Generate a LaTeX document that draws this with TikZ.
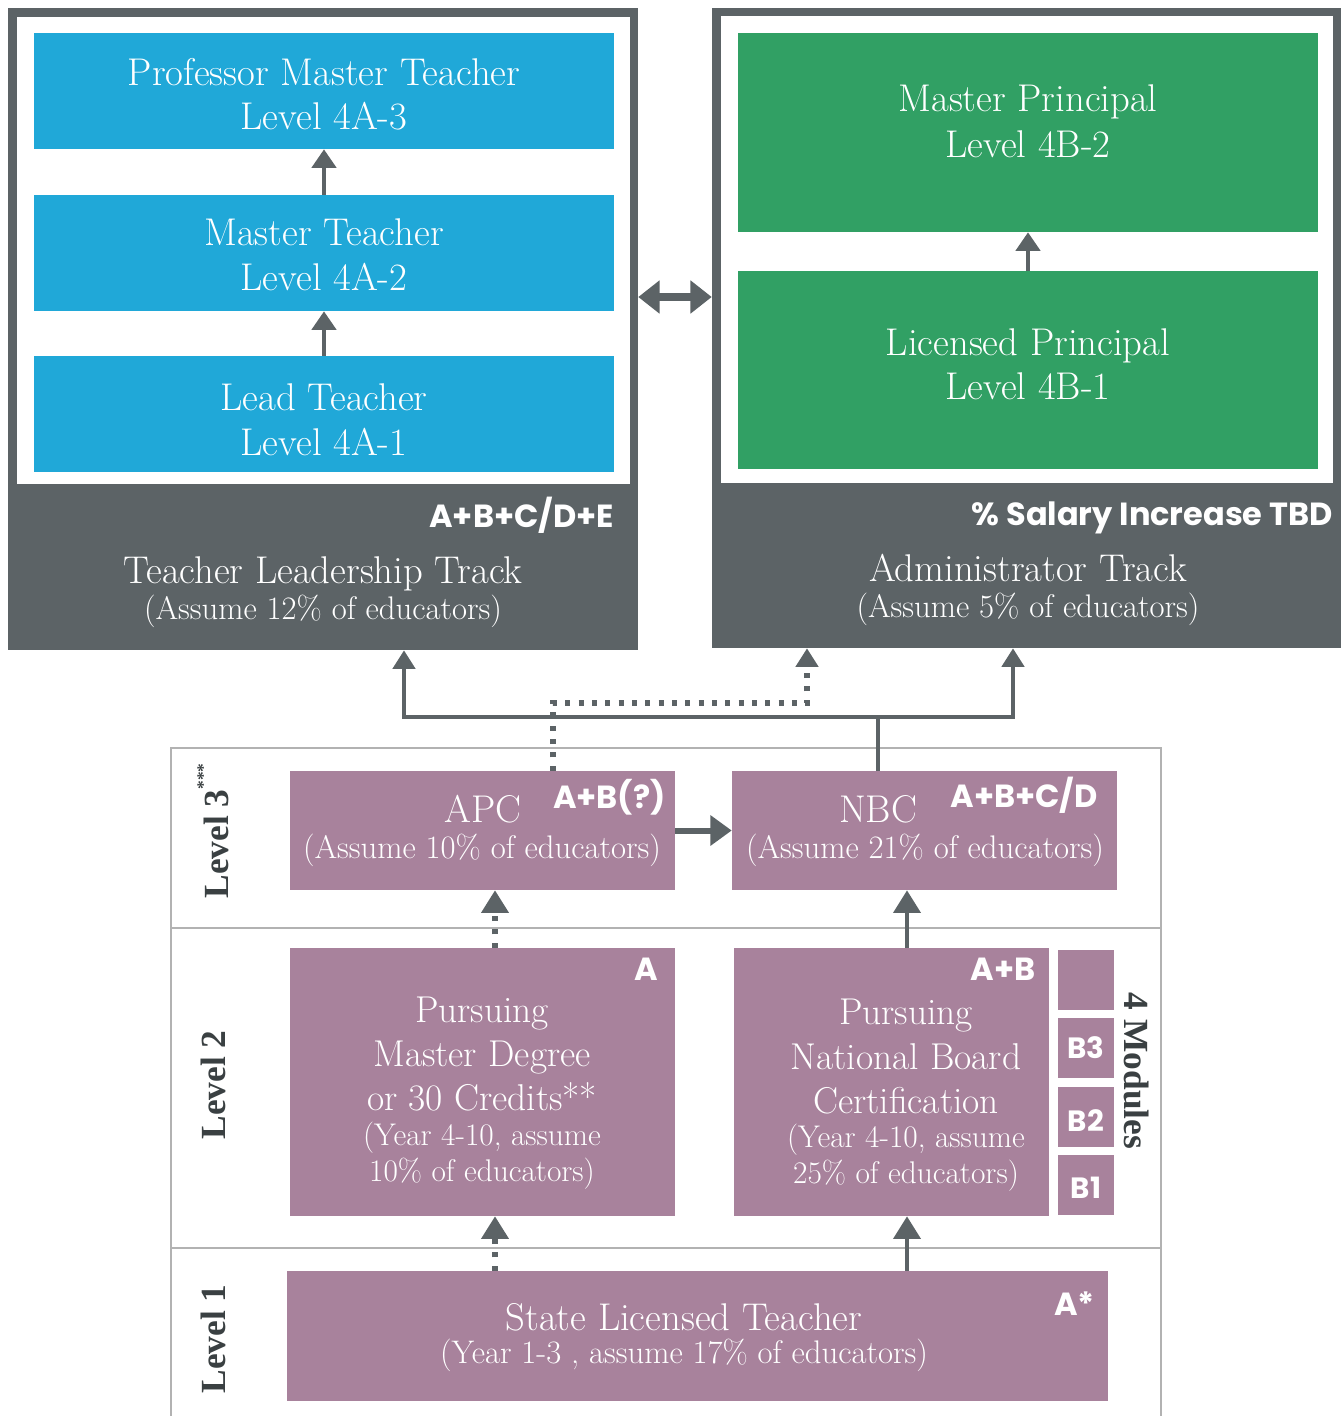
\documentclass[tikz,border=0pt]{standalone}
\usepackage{fontspec}
\newfontfamily\labfont{Poppins}
\newfontfamily\lvlfont{Liberation Serif}
\usetikzlibrary{fit,arrows.meta}
\definecolor{dk}{RGB}{92,99,102}
\definecolor{dkt}{RGB}{58,64,66}
\definecolor{bl}{RGB}{32,168,216}
\definecolor{gr}{RGB}{49,160,100}
\definecolor{mv}{RGB}{168,130,156}
\definecolor{gl}{RGB}{178,178,178}
\tikzset{
  area/.style={inner sep=0pt, draw=none},
  big/.style={font=\fontsize{29}{33}\selectfont, text=white, inner sep=0pt, anchor=base},
  mid/.style={font=\fontsize{28}{32}\selectfont, text=white, inner sep=0pt, anchor=base},
  sub/.style={font=\fontsize{24.5}{28}\selectfont, text=white, inner sep=0pt, anchor=base},
  small/.style={font=\fontsize{23.5}{27}\selectfont, text=white, inner sep=0pt, anchor=base},
  lab/.style={font=\labfont\bfseries\fontsize{24}{27}\selectfont, text=white, inner sep=0pt, anchor=base east},
  modlab/.style={font=\labfont\bfseries\fontsize{22}{25}\selectfont, text=white, inner sep=0pt, anchor=base},
  lvl/.style={font=\lvlfont\bfseries\fontsize{26.5}{30}\selectfont, text=dkt, inner sep=0pt},
  conn/.style={draw=dk, line width=3.6pt},
  arr/.style={conn, -{Triangle[width=20pt,length=17pt]}},
  arrtop/.style={conn, line join=miter, {Triangle[width=16.5pt,length=14pt]}-{Triangle[width=16.5pt,length=14pt]}},
  arrsm/.style={conn, -{Triangle[width=18pt,length=14pt]}},
  arrthick/.style={draw=dk, line width=4.5pt, -{Triangle[width=22pt,length=16pt]}},
  arrdbl/.style={draw=dk, line width=6pt, {Triangle[width=24pt,length=16pt]}-{Triangle[width=24pt,length=16pt]}},
  dotted line/.style={conn, line width=3.8pt, dash pattern=on 3.8pt off 6.2pt},
  dotarr/.style={dotted line, -{Triangle[width=20pt,length=17pt]}},
  dotarrtop/.style={dotted line, -{Triangle[width=16.5pt,length=14pt]}},
  grid/.style={draw=gl, line width=1.5pt},
}
\begin{document}
\begin{tikzpicture}[x=0.75pt,y=-0.75pt]
\useasboundingbox (0,0) rectangle (1341,1416);

% ---------- level grid ----------
\draw[grid] (171,1416) -- (171,748) -- (1161,748) -- (1161,1416);
\draw[grid] (171,928) -- (1161,928);
\draw[grid] (171,1248) -- (1161,1248);

% ---------- teacher leadership track ----------
\node[area, fill=dk, fit={(8,8) (638,650)}] (ltrack) {};
\node[area, fill=white, fit={(17,17) (630,484)}] (lpanel) {};
\node[area, fill=bl, fit={(34,33) (614,149)}] (pmt) {};
\node[area, fill=bl, fit={(34,195) (614,311)}] (mt) {};
\node[area, fill=bl, fit={(34,356) (614,472)}] (lt) {};
\node[big] (pmt1) at (324,86) {Professor Master Teacher};
\node[big] (pmt2) at (324,130) {Level 4A-3};
\node[big] (mt1) at (324,245) {Master Teacher};
\node[big] (mt2) at (324,290) {Level 4A-2};
\node[big] (lt1) at (324,410) {Lead Teacher};
\node[big] (lt2) at (324,455) {Level 4A-1};
\node[lab] (lcode) at (614,527) {A+B+C/D+E};
\node[big] (ltitle) at (323,583) {Teacher Leadership Track};
\node[sub] (lsub) at (323,619) {(Assume 12\% of educators)};

% ---------- administrator track ----------
\node[area, fill=dk, fit={(712,8) (1341,648)}] (rtrack) {};
\node[area, fill=white, fit={(721,16) (1333,483)}] (rpanel) {};
\node[area, fill=gr, fit={(738,33) (1318,232)}] (mp) {};
\node[area, fill=gr, fit={(738,271) (1318,469)}] (lp) {};
\node[big] (mp1) at (1028,112) {Master Principal};
\node[big] (mp2) at (1028,157) {Level 4B-2};
\node[big] (lp1) at (1028,355) {Licensed Principal};
\node[big] (lp2) at (1028,399) {Level 4B-1};
\node[lab] (rcode) at (1333,525) {\% Salary Increase TBD};
\node[big] (rtitle) at (1028,581) {Administrator Track};
\node[sub] (rsub) at (1028,617) {(Assume 5\% of educators)};

% ---------- level 3 ----------
\node[area, fill=mv, fit={(290,771) (675,890)}] (apc) {};
\node[area, fill=mv, fit={(732,771) (1117,890)}] (nbc) {};
\node[big] (apc1) at (483,822) {APC};
\node[sub] (apc2) at (482,858) {(Assume 10\% of educators)};
\node[lab] (apccode) at (666,808) {A+B(?)};
\node[big] (nbc1) at (878,822) {NBC};
\node[sub] (nbc2) at (925,858) {(Assume 21\% of educators)};
\node[lab] (nbccode) at (1098,807) {A+B+C/D};

% ---------- level 2 ----------
\node[area, fill=mv, fit={(290,948) (675,1216)}] (md) {};
\node[area, fill=mv, fit={(734,948) (1049,1216)}] (nbp) {};
\node[lab] (mdcode) at (658,980) {A};
\node[mid] (md1) at (482,1022) {Pursuing};
\node[mid] (md2) at (482,1066) {Master Degree};
\node[mid] (md3) at (482,1110) {or 30 Credits**};
\node[small] (md4) at (482,1145) {(Year 4-10, assume};
\node[small] (md5) at (482,1181) {10\% of educators)};
\node[lab] (nbpcode) at (1036,980) {A+B};
\node[mid] (nbp1) at (906,1024) {Pursuing};
\node[mid] (nbp2) at (906,1069) {National Board};
\node[mid] (nbp3) at (906,1113) {Certification};
\node[small] (nbp4) at (906,1147) {(Year 4-10, assume};
\node[small] (nbp5) at (906,1183) {25\% of educators)};
\node[area, fill=mv, fit={(1058,950) (1114,1010)}] (m4) {};
\node[area, fill=mv, fit={(1058,1018) (1114,1078)}] (b3) {};
\node[area, fill=mv, fit={(1058,1087) (1114,1147)}] (b2) {};
\node[area, fill=mv, fit={(1058,1155) (1114,1215)}] (b1) {};
\node[modlab] (b3t) at (1086,1058) {B3};
\node[modlab] (b2t) at (1086,1131) {B2};
\node[modlab] (b1t) at (1086,1198) {B1};
\node[lvl, rotate=-90] (mods) at (1137,1071) {4 Modules};

% ---------- level 1 ----------
\node[area, fill=mv, fit={(287,1271) (1108,1401)}] (slt) {};
\node[big] (slt1) at (684,1330) {State Licensed Teacher};
\node[sub] (slt2) at (684,1363) {(Year 1-3 , assume 17\% of educators)};
\node[lab] (sltcode) at (1095,1315) {A*};

% ---------- level labels ----------
\node[lvl, rotate=90] (lv3) at (213,831) {Level 3\raisebox{0.55em}{\fontsize{13}{14}\selectfont ***}};
\node[lvl, rotate=90] (lv2) at (213,1085) {Level 2};
\node[lvl, rotate=90] (lv1) at (213,1339) {Level 1};

% ---------- connectors ----------
\coordinate (xa) at (495,0);
\coordinate (xb) at (907,0);
\coordinate (yd) at (0,297);
\coordinate (jl) at (404,717);
\coordinate (jr) at (1013,717);
\coordinate (jn) at (878,717);
\coordinate (dl) at (553,703);
\coordinate (dr) at (807,703);

\draw[arrsm] (lt.north) -- (mt.south);
\draw[arrsm] (mt.north) -- (pmt.south);
\draw[arrsm] (lp.north) -- (mp.south);
\draw[arrdbl] (ltrack.east |- yd) -- (rtrack.west |- yd);

\draw[dotarr] (slt.north -| xa) -- (md.south -| xa);
\draw[dotarr] (md.north -| xa) -- (apc.south -| xa);
\draw[arr] (slt.north -| xb) -- (nbp.south -| xb);
\draw[arr] (nbp.north -| xb) -- (nbc.south -| xb);
\draw[arrthick] (apc.east) -- (nbc.west);

\draw[conn] (nbc.north -| jn) -- (jn);
\draw[arrtop] (ltrack.south -| jl) -- (jl) -- (jr) -- (rtrack.south -| jr);
\draw[dotarrtop] (apc.north -| dl) -- (dl) -- (dr) -- (rtrack.south -| dr);
\end{tikzpicture}
\end{document}
